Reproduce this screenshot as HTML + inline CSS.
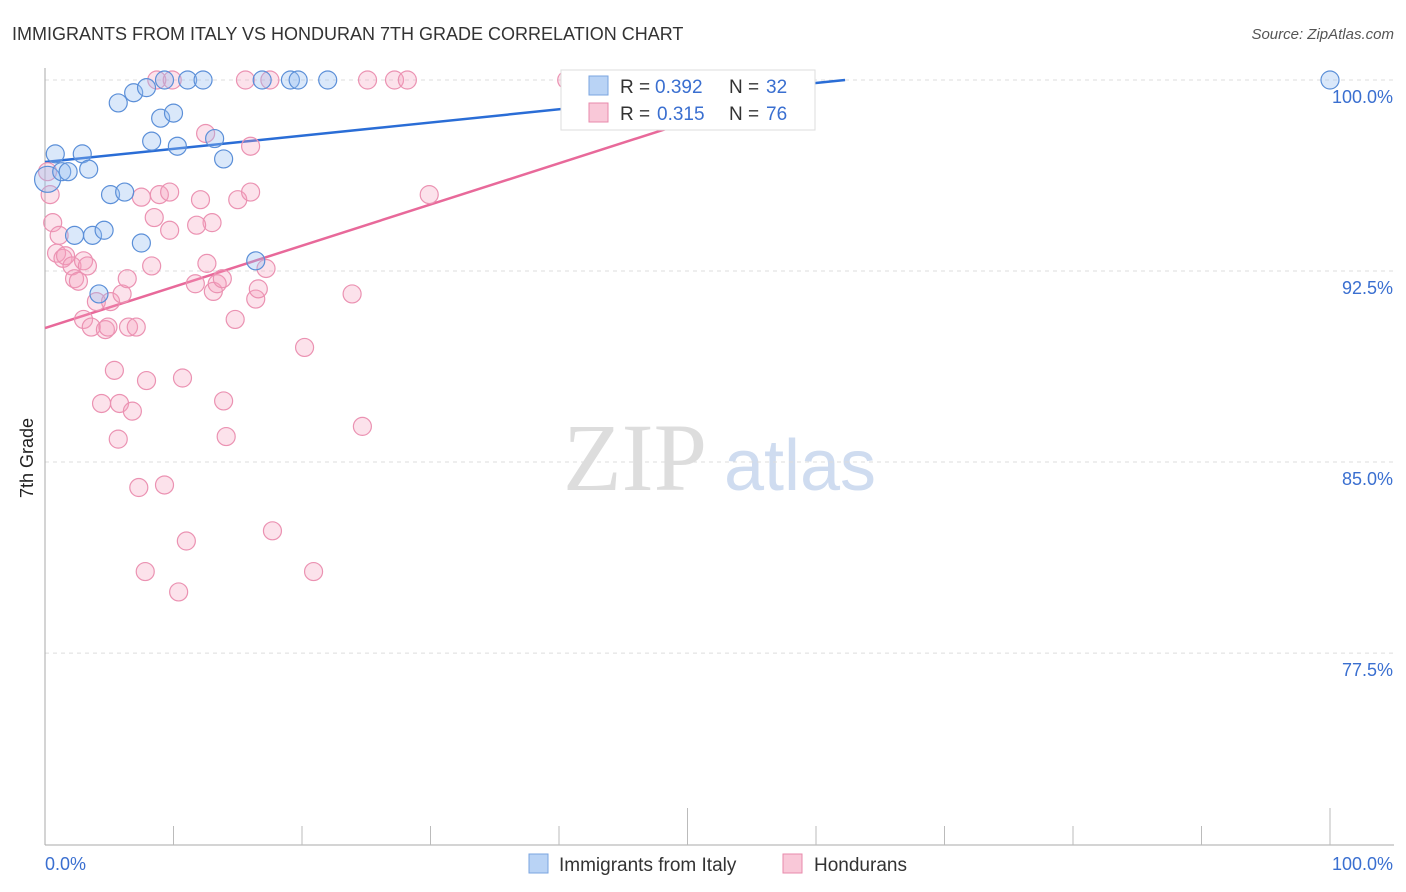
<!DOCTYPE html>
<html><head><meta charset="utf-8"><style>
body{margin:0;background:#fff;font-family:"Liberation Sans",sans-serif}
</style></head><body>
<svg id="c" width="1406" height="892" style="display:block">
<text x="12" y="40" font-size="18" fill="#333">IMMIGRANTS FROM ITALY VS HONDURAN 7TH GRADE CORRELATION CHART</text>
<text x="1394" y="39" font-size="15" fill="#555" font-style="italic" text-anchor="end">Source: ZipAtlas.com</text>
<text x="33" y="458" font-size="18" fill="#222" text-anchor="middle" transform="rotate(-90 33 458)">7th Grade</text>
<g>
<text x="635" y="490" font-size="96" fill="#ddd" font-family="Liberation Serif,serif" text-anchor="middle">ZIP</text>
<text x="800" y="490" font-size="72" fill="#cfdcf0" text-anchor="middle">atlas</text>
</g>
<g id="grid"></g><g id="axes"></g><g id="lines"></g><g id="pts"></g>
<g>
<rect x="561" y="70" width="254" height="60" fill="#fff" stroke="#ddd"/>
<rect x="589" y="76" width="19" height="19" fill="#b9d3f5" stroke="#7aa5e0"/>
<text x="620" y="93" font-size="19" fill="#333">R =</text>
<text x="655" y="93" font-size="19" fill="#3a6fd0">0.392</text>
<text x="729" y="93" font-size="19" fill="#333">N =</text>
<text x="766" y="93" font-size="19" fill="#3a6fd0">32</text>
<rect x="589" y="103" width="19" height="19" fill="#f9c8d8" stroke="#e88aab"/>
<text x="620" y="120" font-size="19" fill="#333">R =</text>
<text x="657" y="120" font-size="19" fill="#3a6fd0">0.315</text>
<text x="729" y="120" font-size="19" fill="#333">N =</text>
<text x="766" y="120" font-size="19" fill="#3a6fd0">76</text>
</g>
<g>
<rect x="529" y="854" width="19" height="19" fill="#b9d3f5" stroke="#7aa5e0"/>
<text x="559" y="871" font-size="19" fill="#333">Immigrants from Italy</text>
<rect x="783" y="854" width="19" height="19" fill="#f9c8d8" stroke="#e88aab"/>
<text x="814" y="871" font-size="19" fill="#333">Hondurans</text>
</g>
</svg>
<script>
const yTicks=[100,92.5,85,77.5];
const yTickLabels=["100.0%","92.5%","85.0%","77.5%"];
const xTickLabels=["0.0%","100.0%"];
const italyX=[0.8,0.2,1.3,1.8,2.9,3.4,2.3,3.7,4.6,4.2,5.1,6.2,5.7,6.9,7.9,9.3,11.1,12.3,16.9,19.1,19.7,22.0,100,7.5,8.3,9.0,10.0,10.3,13.2,13.9,16.4,44.7];
const italyY=[97.1,96.1,96.4,96.4,97.1,96.5,93.9,93.9,94.1,91.6,95.5,95.6,99.1,99.5,99.7,100,100,100,100,100,100,100,100,93.6,97.6,98.5,98.7,97.4,97.7,96.9,92.9,100];
const hondX=[0.2,0.4,0.6,1.1,0.9,1.4,1.6,2.1,2.3,2.6,3.0,3.3,4.0,3.0,3.6,4.7,4.9,5.1,6.0,6.4,6.5,7.1,5.4,4.4,5.8,6.8,5.7,7.9,8.3,8.5,7.5,8.9,9.7,9.7,7.3,9.3,7.8,10.4,11.0,10.7,12.1,11.7,12.6,13.0,11.8,13.1,13.4,13.8,13.9,14.1,14.8,15.0,16.0,16.0,12.5,16.4,16.6,17.2,17.7,20.2,20.9,23.9,24.7,29.9,8.7,9.9,15.6,17.5,25.1,27.2,28.2,40.6,41.6,51.0];
const hondY=[96.4,95.5,94.4,93.9,93.2,93.0,93.1,92.7,92.2,92.1,92.9,92.7,91.3,90.6,90.3,90.2,90.3,91.3,91.6,92.2,90.3,90.3,88.6,87.3,87.3,87.0,85.9,88.2,92.7,94.6,95.4,95.5,95.6,94.1,84.0,84.1,80.7,79.9,81.9,88.3,95.3,92.0,92.8,94.4,94.3,91.7,92.0,92.2,87.4,86.0,90.6,95.3,95.6,97.4,97.9,91.4,91.8,92.6,82.3,89.5,80.7,91.6,86.4,95.5,100,100,100,100,100,100,100,100,100,98.6];
const italyTrend=[[0,96.78],[62.26,100]];
const hondTrend=[[0,90.26],[51.75,98.63]];
const X=v=>45+v*12.85, Y=v=>80+(100-v)*25.47;
const NS="http://www.w3.org/2000/svg";
function mk(tag,attrs,parent){const e=document.createElementNS(NS,tag);for(const k in attrs)e.setAttribute(k,attrs[k]);parent.appendChild(e);return e;}
const grid=document.getElementById('grid'),axes=document.getElementById('axes'),lines=document.getElementById('lines'),pts=document.getElementById('pts');
yTicks.forEach((t,i)=>{
 const l=mk('line',{x1:45,x2:1394,y1:Y(t),y2:Y(t),stroke:'#ddd','stroke-dasharray':'4,4'},grid);
 
 
 const tx=mk('text',{x:1393,y:Y(t)+23,'font-size':18,fill:'#3a6fd0','text-anchor':'end'},axes);
 tx.textContent=yTickLabels[i];
 
 
});
const ax=mk('line',{x1:45,x2:45,y1:68,y2:845,stroke:'#aaa'},axes);


const bx=mk('line',{x1:45,x2:1394,y1:845,y2:845,stroke:'#aaa'},axes);


for(let i=1;i<=10;i++){
 const t=mk('line',{x1:X(i*10),x2:X(i*10),y1:(i==5||i==10)?808:826,y2:845,stroke:'#bbb'},axes);
 
 
}
[[0,'start'],[100,'end']].forEach((p,i)=>{
 const t=mk('text',{x:i?1393:45,y:870,'font-size':18,fill:'#3a6fd0','text-anchor':p[1]},axes);
 t.textContent=xTickLabels[i];
 
 
});
hondX.forEach((x,i)=>{
 const c=mk('circle',{cx:X(x),cy:Y(hondY[i]),r:9,fill:'rgba(244,160,190,0.3)',stroke:'#eb92b2','stroke-width':1.2},pts);
 
 
});
italyX.forEach((x,i)=>{
 const c=mk('circle',{cx:X(x),cy:Y(italyY[i]),r:(i==1?13:9),fill:'rgba(150,190,240,0.35)',stroke:'#5b8fd8','stroke-width':1.2},pts);
 
 
});
const lb=mk('line',{x1:X(italyTrend[0][0]),y1:Y(italyTrend[0][1]),x2:X(italyTrend[1][0]),y2:Y(italyTrend[1][1]),stroke:'#2a6dd6','stroke-width':2.5},lines);


const lp=mk('line',{x1:X(hondTrend[0][0]),y1:Y(hondTrend[0][1]),x2:X(hondTrend[1][0]),y2:Y(hondTrend[1][1]),stroke:'#e8699a','stroke-width':2.5},lines);


</script>
</body></html>
